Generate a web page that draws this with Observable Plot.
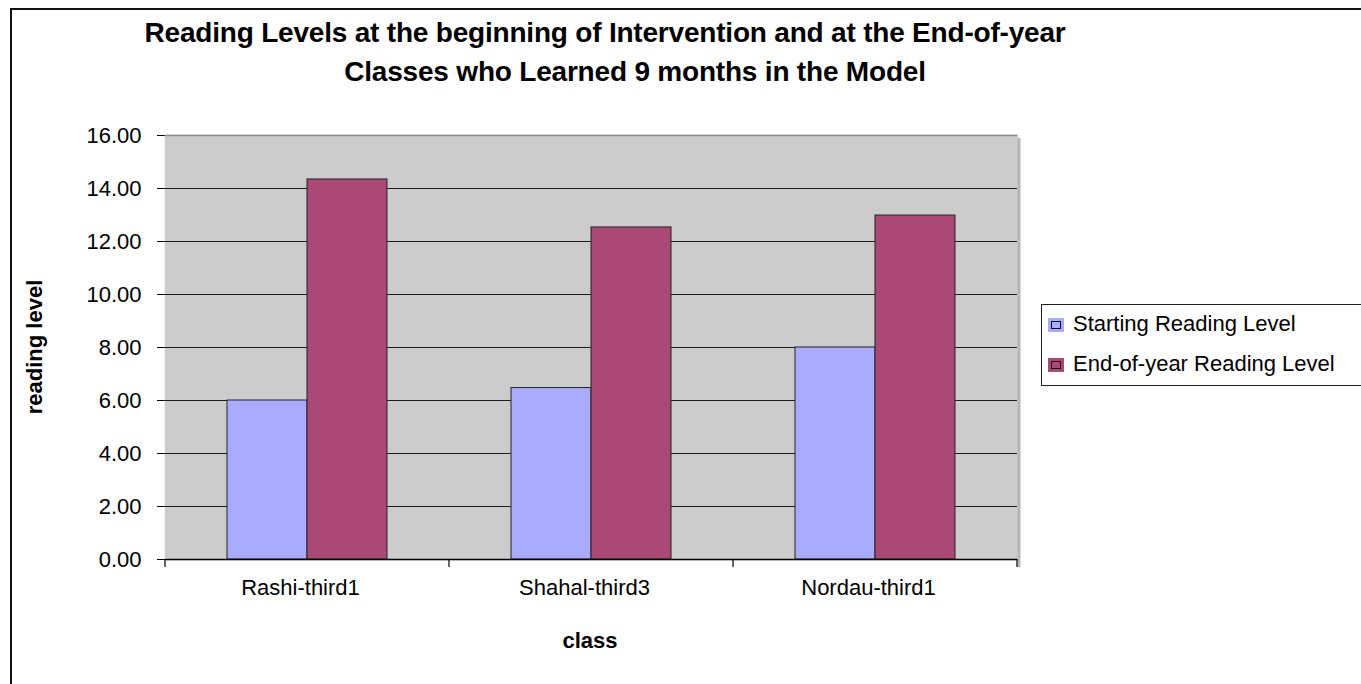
<!DOCTYPE html>
<html>
<head>
<meta charset="utf-8">
<script src="https://cdn.jsdelivr.net/npm/d3@7"></script>
<script src="https://cdn.jsdelivr.net/npm/@observablehq/plot@0.6"></script>
<style>
  html, body { margin: 0; padding: 0; background: #fff; }
  #wrap { position: relative; width: 1361px; height: 684px; overflow: hidden; font-family: "Liberation Sans", Arial, sans-serif; color: #000; }
  #border { position: absolute; left: 10px; top: 8px; width: 1400px; height: 700px; border-top: 2px solid #111; border-left: 2px solid #111; }
  .title { position: absolute; left: 0; width: 1210px; text-align: center; font-weight: bold; font-size: 28px; letter-spacing: -0.2px; white-space: nowrap; }
  #chart { position: absolute; left: 0; top: 100px; }
  .axtitle { position: absolute; font-weight: bold; font-size: 22px; white-space: nowrap; }
  #legend { position: absolute; left: 1041px; top: 304px; width: 360px; height: 80px; border: 1px solid #222; background: #fff; }
  .li { position: absolute; left: 6px; font-size: 22px; white-space: nowrap; }
  .sw { display: inline-block; width: 16px; height: 14px; box-sizing: border-box; border: 2px solid; margin-right: 9px; vertical-align: -1px; position: relative; }
  .sw::after { content: ""; position: absolute; left: 1px; top: 1px; right: 1px; bottom: 1px; border: 1px solid #111; }
</style>
</head>
<body>
<div id="wrap">
  <div id="border"></div>
  <div class="title" style="top:17px">Reading Levels at the beginning of Intervention and at the End-of-year</div>
  <div class="title" style="top:56px; left:30px">Classes who Learned 9 months in the Model</div>
  <div id="chart"></div>
  <div class="axtitle" id="ytitle" style="left:35px; top:347px; transform: translate(-50%, -50%) rotate(-90deg);">reading level</div>
  <div class="axtitle" style="left:590px; top:641px; transform: translate(-50%, -50%);">class</div>
  <div id="legend"></div>
</div>
<script>
const categories = ["Rashi-third1", "Shahal-third3", "Nordau-third1"];
const seriesNames = ["Starting Reading Level", "End-of-year Reading Level"];
const startValues = [6.0, 6.47, 8.0];
const endValues = [14.34, 12.53, 12.98];
const seriesColors = ["#aaaaff", "#aa4976"];
const yTicks = [0, 2, 4, 6, 8, 10, 12, 14, 16];

const data = [];
categories.forEach((c, i) => {
  data.push({cls: c, series: seriesNames[0], value: startValues[i]});
  data.push({cls: c, series: seriesNames[1], value: endValues[i]});
});

const chart = Plot.plot({
  width: 1361,
  height: 584,
  marginLeft: 165,
  marginRight: 344,
  marginTop: 35,
  marginBottom: 125,
  style: {fontSize: "22px", fontFamily: "'Liberation Sans', Arial, sans-serif", color: "#000", background: "transparent", overflow: "visible"},
  fx: {domain: categories, padding: 0, label: null, axis: null},
  x: {domain: seriesNames, paddingInner: 0, paddingOuter: 0.775, axis: null},
  y: {domain: [0, 16], ticks: yTicks, tickFormat: d3.format(".2f"), tickSize: 8, tickPadding: 16, label: null, line: true},
  color: {domain: seriesNames, range: seriesColors},
  marks: [
    Plot.frame({fill: "#cccccc", stroke: "#cccccc", strokeWidth: 1.5}),
    Plot.ruleY(yTicks.filter(d => d > 0 && d < 16), {stroke: "#1c1c1c", strokeWidth: 1.2}),
    Plot.ruleY([16], {stroke: "#8c8c8c", strokeWidth: 1.6}),
    Plot.barY(data, {fx: "cls", x: "series", y: "value", fill: "series", stroke: "#222", strokeWidth: 1}),
    Plot.ruleY([0], {stroke: "#000", strokeWidth: 1.5}),
    Plot.axisFx({anchor: "bottom", tickSize: 0, tickPadding: 20, label: null, dx: -7})
  ]
});
document.getElementById("chart").appendChild(chart);

// Excel-style category ticks between groups and right-edge shadow, placed with Plot's own scales
const fx = chart.scale("fx");
const ys = chart.scale("y");
const svg = d3.select(chart.tagName.toLowerCase() === "svg" ? chart : chart.querySelector("svg"));
const y0 = ys.apply(0), y16 = ys.apply(16);
const edges = categories.map(c => fx.apply(c));
const lastRight = fx.apply(categories[categories.length - 1]) + fx.bandwidth;
edges.push(lastRight);
const g = svg.append("g");
g.append("rect").attr("x", lastRight + 0.5).attr("y", y16 + 3).attr("width", 3).attr("height", y0 - y16 + 5).attr("fill", "#b8b8b8");
edges.forEach(x => {
  g.append("line").attr("x1", x).attr("x2", x).attr("y1", y0).attr("y2", y0 + 8).attr("stroke", "#000").attr("stroke-width", 1.2);
});

const legend = document.getElementById("legend");
seriesNames.forEach((s, i) => {
  const item = document.createElement("div");
  item.className = "li";
  item.style.top = (i === 0 ? 6 : 46) + "px";
  const sw = document.createElement("span");
  sw.className = "sw";
  sw.style.background = seriesColors[i];
  sw.style.borderColor = seriesColors[i];
  item.appendChild(sw);
  item.appendChild(document.createTextNode(s));
  legend.appendChild(item);
});
</script>
</body>
</html>
